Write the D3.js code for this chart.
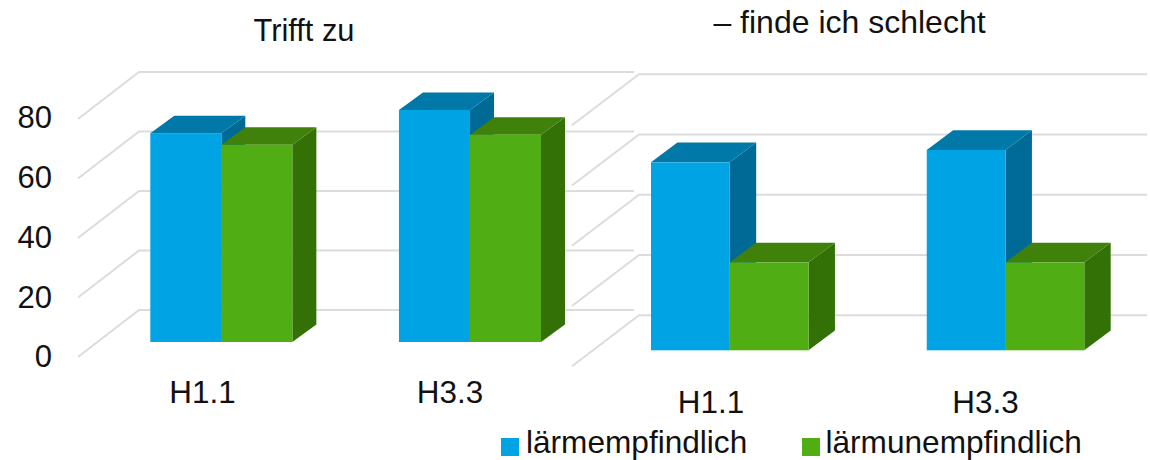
<!DOCTYPE html>
<html lang="de">
<head>
<meta charset="utf-8">
<script src="https://cdn.jsdelivr.net/npm/d3@7/dist/d3.min.js"></script>
<style>
  html, body { margin: 0; padding: 0; background: #fff; }
  svg { display: block; }
  text { font-family: "Liberation Sans", Arial, sans-serif; fill: #111; }
</style>
</head>
<body>
<svg id="chart" width="1150" height="460"></svg>
<script>
// Survey results: share of respondents per item, split by noise sensitivity.
const categories = ["H1.1", "H3.3"];
const seriesNames = ["lärmempfindlich", "lärmunempfindlich"];
const valueTicks = [0, 20, 40, 60, 80];

const panelTitles = ["Trifft zu", "– finde ich schlecht"];
const sensitiveTrifftZu = [70.2, 78];
const insensitiveTrifftZu = [66.3, 69.7];
const sensitiveSchlecht = [62.4, 66.5];
const insensitiveSchlecht = [29.2, 29.2];

const seriesColors = [
  { front: "#00a3e4", top: "#0079a8", side: "#006a97" },
  { front: "#50ae14", top: "#3f810a", side: "#337107" }
];

const svg = d3.select("#chart");

// Panel geometry for the pseudo-3D column charts.
const panels = [
  {
    title: panelTitles[0], titleX: 304, titleY: 41, titleSize: 30.8,
    values: [sensitiveTrifftZu, insensitiveTrifftZu],
    wallZero: 310, wallTop: 72, wallLeft: 139, wallRight: 634,
    floorDx: 61, floorDy: 47,
    barZero: 342, barRange: [150.3, 541], depthX: 24, depthY: 17.5,
    labelY: 403, labelCenters: [202.5, 450]
  },
  {
    title: panelTitles[1], titleX: 849.5, titleY: 33, titleSize: 32,
    values: [sensitiveSchlecht, insensitiveSchlecht],
    wallZero: 315.3, wallTop: 74.3, wallLeft: 639, wallRight: 1147,
    floorDx: 67, floorDy: 51,
    barZero: 350.3, barRange: [651, 1084.3], depthX: 26.4, depthY: 19.7,
    labelY: 413, labelCenters: [711, 985.5]
  }
];

panels.forEach(p => {
  const g = svg.append("g");
  const wallY = d3.scaleLinear().domain([0, 80]).range([p.wallZero, p.wallTop]);
  const barHeightScale = d3.scaleLinear().domain([0, 80])
    .range([p.barZero, p.barZero - (p.wallZero - p.wallTop)]);

  // Back wall gridlines with their receding floor segments
  g.append("g").selectAll("path").data(valueTicks).join("path")
    .attr("d", v => {
      const y = wallY(v);
      return `M${p.wallLeft - p.floorDx},${y + p.floorDy}L${p.wallLeft},${y}L${p.wallRight},${y}`;
    })
    .attr("fill", "none")
    .attr("stroke", "#dcdcdc")
    .attr("stroke-width", 2);

  const x0 = d3.scaleBand().domain(categories).range(p.barRange).paddingInner(0.4287).paddingOuter(0);
  const x1 = d3.scaleBand().domain([0, 1]).range([0, x0.bandwidth()]);

  categories.forEach((cat, ci) => {
    seriesNames.forEach((name, si) => {
      const col = seriesColors[si];
      const left = x0(cat) + x1(si);
      const right = left + x1.bandwidth();
      const top = barHeightScale(p.values[si][ci]);
      const base = barHeightScale(0);
      const dx = p.depthX, dy = p.depthY;
      const bar = g.append("g");
      bar.append("path")
        .attr("d", `M${right},${top}L${right + dx},${top - dy}L${right + dx},${base - dy}L${right},${base}Z`)
        .attr("fill", col.side);
      bar.append("path")
        .attr("d", `M${left},${top}L${left + dx},${top - dy}L${right + dx},${top - dy}L${right},${top}Z`)
        .attr("fill", col.top);
      bar.append("rect")
        .attr("x", left).attr("y", top)
        .attr("width", right - left).attr("height", base - top)
        .attr("fill", col.front);
    });
    g.append("text")
      .attr("x", p.labelCenters[ci])
      .attr("y", p.labelY)
      .attr("text-anchor", "middle")
      .attr("font-size", 31.4)
      .text(cat);
  });

  g.append("text")
    .attr("x", p.titleX).attr("y", p.titleY)
    .attr("text-anchor", "middle")
    .attr("font-size", p.titleSize)
    .text(p.title);
});

// Value axis sits at the front edge of the left panel's floor
const yAxisScale = d3.scaleLinear().domain([0, 80]).range([357, 118]);
const axis = svg.append("g")
  .attr("transform", "translate(52,0)")
  .call(d3.axisLeft(yAxisScale).tickValues(valueTicks).tickSize(0).tickPadding(0));
axis.select(".domain").remove();
axis.selectAll("text").attr("font-size", 31).style("font-family", '"Liberation Sans", Arial, sans-serif').attr("fill", "#111");

// Legend
const legendItems = [
  { x: 501, textX: 526 },
  { x: 802, textX: 825.5 }
];
const legend = svg.append("g");
seriesNames.forEach((name, i) => {
  legend.append("rect")
    .attr("x", legendItems[i].x).attr("y", 438)
    .attr("width", 18).attr("height", 18)
    .attr("fill", seriesColors[i].front);
  legend.append("text")
    .attr("x", legendItems[i].textX).attr("y", 453)
    .attr("font-size", 31.6)
    .text(name);
});
</script>
</body>
</html>
